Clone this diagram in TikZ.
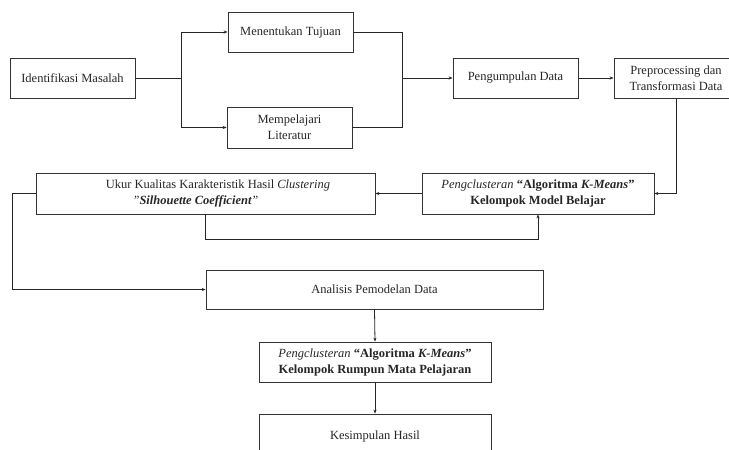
\documentclass[tikz,border=0pt]{standalone}
\usepackage{fontspec}
\setmainfont{Liberation Serif}
\usetikzlibrary{arrows.meta}
\begin{document}
\begin{tikzpicture}[x=1pt,y=-1pt,
  box/.style={draw=black!80,line width=0.8pt,inner sep=0pt,align=center,
    font=\fontsize{12.5pt}{16pt}\selectfont,text=black!85},
  link/.style={draw=black!85,line width=0.8pt},
  arr/.style={link,-{Stealth[length=4pt,width=3.2pt]}}]
\useasboundingbox (0,0) rectangle (729,450);
\node[box,minimum width=125pt,minimum height=40pt] (idm) at (72.5,78) {Identifikasi Masalah};
\node[box,minimum width=125pt,minimum height=40pt] (tuj) at (290.5,32) {Menentukan Tujuan};
\node[box,minimum width=125pt,minimum height=41pt] (lit) at (289.5,127.5) {Mempelajari\\Literatur};
\node[box,minimum width=125pt,minimum height=40pt] (pd) at (515.5,78) {Pengumpulan Data};
\node[box,minimum width=124pt,minimum height=40pt] (pre) at (676,78) {Preprocessing dan\\Transformasi Data};
\node[box,minimum width=232pt,minimum height=41pt] (pk1) at (538,193.5) {\textit{Pengclusteran} \textbf{“Algoritma \textit{K-Means}”}\\\textbf{Kelompok Model Belajar}};
\node[box,minimum width=339pt,minimum height=41pt] (ukur) at (205.5,193.5) {\hspace*{25pt}Ukur Kualitas Karakteristik Hasil \textit{Clustering}\\\textit{"\textbf{Silhouette Coefficient}"}\hspace*{20pt}};
\node[box,minimum width=337pt,minimum height=39pt] (an) at (374.5,289.5) {Analisis Pemodelan Data};
\node[box,minimum width=232pt,minimum height=40pt] (pk2) at (375,362) {\textit{Pengclusteran} \textbf{“Algoritma \textit{K-Means}”}\\\textbf{Kelompok Rumpun Mata Pelajaran}};
\node[box,minimum width=232pt,minimum height=44pt] (kes) at (375,436) {Kesimpulan Hasil};
\coordinate (j1) at (181,78);
\coordinate (j2) at (402,78);
\draw[link] (idm.east) -- (j1);
\draw[arr] (j1) |- (tuj.west);
\draw[arr] (j1) |- (lit.west);
\draw[link] (tuj.east) -| (j2);
\draw[link] (lit.east) -| (j2);
\draw[arr] (j2) -- (pd.west);
\draw[arr] (pd.east) -- (pre.west);
\draw[arr] (pre.south) |- (pk1.east);
\draw[arr] (pk1.west) -- (ukur.east);
\draw[arr] (ukur.south) -- ++(0,24.5) -| (pk1.south);
\draw[arr] (ukur.west) -- ++(-23,0) |- (an.west);
\draw[arr] (an.south) -- (pk2.north);
\draw[arr] (pk2.south) -- (kes.north);
\end{tikzpicture}
\end{document}
